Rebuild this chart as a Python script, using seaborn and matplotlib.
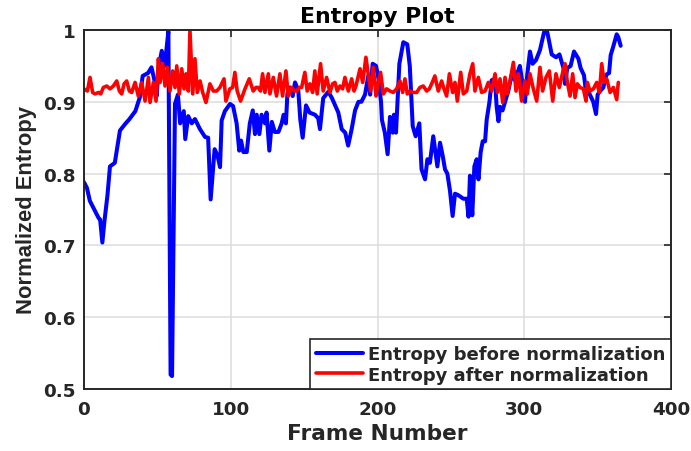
import matplotlib
matplotlib.use("Agg")
import matplotlib.pyplot as plt
import pandas as pd
import seaborn as sns

# ---- data -------------------------------------------------------------
blue_frames = [0, 2, 4, 7.5, 10, 11, 12.5, 14, 16, 17.7, 21, 24.5, 28, 31, 35, 38, 40,
               43.6, 46, 48, 49.5, 51, 53, 55, 57.5, 59, 60, 62, 64, 65.5, 68, 69, 71,
               73.4, 75.6, 79, 82.5, 84.6, 86.3, 89, 91, 92.7, 93.8, 96, 99.5, 101.6,
               104, 105.8, 107, 108.6, 110.9, 113, 115, 116.5, 117.7, 119.5, 121, 123.3,
               124.4, 126.3, 128, 130, 132.5, 134.7, 136, 137.6, 138.6, 140.4, 142.2,
               143.8, 146, 147.4, 149, 151.3, 153.7, 157.4, 159.6, 160.8, 163, 166.5,
               169, 173.3, 175.6, 178, 180, 182.4, 184.7, 187, 189, 191.5, 193.7, 195,
               196.7, 199, 200.6, 202.4, 203, 205, 206.9, 208.5, 210.4, 211.2, 212.6,
               214.9, 217.6, 220.3, 222, 224, 226, 228.5, 230, 232.4, 234, 235.7, 238,
               240.8, 242.6, 244.4, 246, 247.6, 249.4, 251.2, 252.8, 255, 258.5, 260.8,
               262, 263, 264.6, 266, 267.6, 268.8, 270.3, 271.7, 273.3, 274.4, 276.3,
               277.8, 280, 281.2, 282.4, 283.5, 285.2, 286.9, 289.1, 291.4, 293.7, 297,
               299.4, 300.5, 302, 303.9, 305.7, 308, 310.7, 313.5, 315.7, 318.7, 321.7,
               324, 326.7, 327.8, 329.3, 331.6, 333.9, 336.9, 338.4, 340.7, 342, 343.6,
               345.9, 347, 348.9, 350, 351.7, 353.9, 356, 357.8, 358.9, 360.8, 363,
               364.1, 365.7]
blue_values = [0.788, 0.780, 0.762, 0.748, 0.738, 0.736, 0.704, 0.735, 0.770, 0.810,
               0.815, 0.860, 0.869, 0.876, 0.887, 0.906, 0.936, 0.940, 0.948, 0.930,
               0.908, 0.950, 0.971, 0.950, 0.998, 0.520, 0.518, 0.897, 0.910, 0.870,
               0.887, 0.848, 0.880, 0.870, 0.876, 0.862, 0.851, 0.850, 0.764, 0.834,
               0.825, 0.809, 0.874, 0.887, 0.897, 0.894, 0.870, 0.832, 0.846, 0.830,
               0.830, 0.870, 0.888, 0.855, 0.882, 0.855, 0.882, 0.870, 0.885, 0.832,
               0.872, 0.858, 0.858, 0.870, 0.882, 0.870, 0.911, 0.920, 0.908, 0.927,
               0.916, 0.875, 0.850, 0.895, 0.885, 0.882, 0.877, 0.862, 0.905, 0.914,
               0.905, 0.885, 0.862, 0.857, 0.839, 0.862, 0.888, 0.900, 0.900, 0.910,
               0.936, 0.910, 0.953, 0.950, 0.933, 0.900, 0.875, 0.857, 0.827, 0.879,
               0.857, 0.882, 0.857, 0.953, 0.983, 0.980, 0.950, 0.866, 0.852, 0.870,
               0.806, 0.792, 0.820, 0.815, 0.852, 0.810, 0.843, 0.825, 0.806, 0.800,
               0.776, 0.741, 0.772, 0.770, 0.765, 0.765, 0.740, 0.797, 0.742, 0.810,
               0.820, 0.792, 0.830, 0.845, 0.845, 0.875, 0.900, 0.930, 0.932, 0.893,
               0.873, 0.893, 0.888, 0.900, 0.915, 0.937, 0.930, 0.950, 0.918, 0.900,
               0.937, 0.970, 0.953, 0.958, 0.972, 0.997, 0.997, 0.966, 0.962, 0.966,
               0.947, 0.925, 0.947, 0.950, 0.970, 0.960, 0.947, 0.937, 0.915, 0.915,
               0.905, 0.900, 0.883, 0.910, 0.915, 0.920, 0.938, 0.940, 0.965, 0.978,
               0.994, 0.990, 0.978]

red_frames = [0, 2.3, 4.1, 5.9, 7.5, 9.8, 11.4, 13.2, 15.5, 17.7, 20.0, 22.3, 24.1,
              25.7, 27.3, 29.1, 30.9, 32.5, 34.8, 37.0, 39.3, 41.6, 43.9, 45.0, 47.3,
              49.1, 50.7, 51.8, 53.6, 55.2, 56.8, 58.6, 60.4, 62.0, 63.2, 65.0, 66.6,
              68.2, 69.5, 71.1, 72.2, 74.1, 75.6, 77.2, 79.1, 80.9, 83.1, 85.8, 88.1,
              90.4, 92.6, 95.4, 96.7, 99.4, 101.3, 102.8, 104.4, 106.7, 109.7, 112.6,
              115.3, 117.2, 118.7, 120.3, 121.7, 123.3, 125.6, 126.7, 129.0, 131.2,
              133.5, 135.3, 137.6, 139.2, 141.5, 143.3, 144.9, 146.7, 148.3, 150.5,
              152.1, 153.9, 155.8, 157.3, 158.9, 161.2, 163.0, 165.3, 167.6, 169.4,
              171.0, 172.6, 174.4, 176.2, 177.8, 180.1, 182.4, 184.0, 185.3, 188.1,
              189.9, 192.1, 193.7, 195.3, 197.1, 199.0, 200.5, 202.1, 204.0, 206.2,
              208.5, 210.8, 213.0, 215.3, 217.1, 218.7, 220.3, 222.1, 224.4, 226.7,
              228.9, 231.2, 233.5, 235.3, 236.9, 239.1, 241.4, 243.7, 245.3, 247.1,
              249.0, 251.2, 252.8, 254.4, 256.7, 258.5, 260.8, 263.0, 264.9, 266.4,
              268.7, 271.0, 273.3, 275.5, 277.8, 280.1, 281.7, 283.5, 285.3, 286.9,
              288.5, 290.3, 292.6, 294.4, 296.0, 298.2, 300.5, 302.1, 303.9, 306.2,
              308.5, 310.7, 312.5, 314.8, 317.1, 319.4, 321.6, 323.9, 326.2, 327.8,
              329.4, 331.2, 333.0, 334.6, 336.2, 338.0, 340.3, 342.1, 343.0, 344.8,
              347.1, 349.4, 351.2, 352.8, 354.4, 356.2, 358.5, 360.7, 363.0, 364.1]
red_values = [0.918, 0.915, 0.934, 0.913, 0.911, 0.913, 0.911, 0.920, 0.922, 0.918,
              0.922, 0.929, 0.915, 0.911, 0.925, 0.929, 0.915, 0.913, 0.927, 0.908,
              0.927, 0.901, 0.934, 0.899, 0.927, 0.901, 0.960, 0.927, 0.953, 0.922,
              0.948, 0.915, 0.943, 0.920, 0.950, 0.911, 0.946, 0.918, 0.939, 0.915,
              0.999, 0.911, 0.960, 0.913, 0.929, 0.913, 0.899, 0.925, 0.915, 0.915,
              0.920, 0.932, 0.901, 0.918, 0.920, 0.941, 0.915, 0.901, 0.918, 0.932,
              0.915, 0.920, 0.920, 0.915, 0.939, 0.913, 0.939, 0.911, 0.934, 0.908,
              0.939, 0.908, 0.943, 0.908, 0.920, 0.915, 0.915, 0.920, 0.920, 0.941,
              0.915, 0.925, 0.913, 0.943, 0.911, 0.953, 0.915, 0.934, 0.913, 0.925,
              0.927, 0.915, 0.922, 0.918, 0.934, 0.915, 0.932, 0.915, 0.922, 0.946,
              0.927, 0.962, 0.939, 0.915, 0.948, 0.908, 0.927, 0.941, 0.911, 0.918,
              0.915, 0.913, 0.918, 0.929, 0.913, 0.932, 0.911, 0.915, 0.913, 0.913,
              0.920, 0.922, 0.915, 0.918, 0.925, 0.936, 0.915, 0.929, 0.918, 0.908,
              0.939, 0.913, 0.927, 0.901, 0.941, 0.911, 0.915, 0.939, 0.953, 0.915,
              0.934, 0.913, 0.915, 0.927, 0.915, 0.939, 0.913, 0.932, 0.899, 0.934,
              0.911, 0.929, 0.955, 0.915, 0.939, 0.901, 0.929, 0.911, 0.939, 0.918,
              0.901, 0.948, 0.915, 0.934, 0.943, 0.901, 0.939, 0.920, 0.941, 0.953,
              0.927, 0.908, 0.939, 0.906, 0.925, 0.920, 0.918, 0.901, 0.927, 0.915,
              0.918, 0.927, 0.913, 0.953, 0.927, 0.932, 0.913, 0.920, 0.903, 0.927]

x_ticks = [0, 100, 200, 300, 400]
y_ticks = [0.5, 0.6, 0.7, 0.8, 0.9, 1.0]
y_tick_labels = ["0.5", "0.6", "0.7", "0.8", "0.9", "1"]

label_before = "Entropy before normalization"
label_after = "Entropy after normalization"

# ---- figure -------------------------------------------------------------
sns.set_theme(style="white")
plt.rcParams["font.family"] = ["DejaVu Sans"]

ink = "#262626"
W, H = 691, 452
fig = plt.figure(figsize=(W / 100, H / 100), dpi=100)
ax = fig.add_axes([84 / W, 1 - 390 / H, (671 - 84) / W, (390 - 31) / H])

before = pd.DataFrame({"frame": blue_frames, "entropy": blue_values})
after = pd.DataFrame({"frame": red_frames, "entropy": red_values})

sns.lineplot(data=before, x="frame", y="entropy", color=(0, 0, 1), linewidth=2.9,
             estimator=None, sort=False, label=label_before, ax=ax)
sns.lineplot(data=after, x="frame", y="entropy", color=(1, 0, 0), linewidth=2.6,
             estimator=None, sort=False, label=label_after, ax=ax)

ax.set_xlim(0, 400)
ax.set_ylim(0.5, 1.0)
ax.set_xticks(x_ticks)
ax.set_xticklabels([str(t) for t in x_ticks], fontweight="bold", fontsize=13.2, color=ink)
ax.set_yticks(y_ticks)
ax.set_yticklabels(y_tick_labels, fontweight="bold", fontsize=13.2, color=ink)
ax.tick_params(axis="both", direction="in", length=5, width=1.2, color=ink,
               top=True, right=True)
ax.tick_params(axis="x", pad=8)
ax.tick_params(axis="y", pad=6)

ax.grid(True, color="#dcdcdc", linewidth=1.1)
ax.set_axisbelow(True)
for s in ax.spines.values():
    s.set_visible(True)
    s.set_color(ink)
    s.set_linewidth(1.4)

ax.set_title("Entropy Plot", fontsize=15.8, fontweight="bold", color="black", pad=6)
ax.set_xlabel("Frame Number", fontsize=15.6, fontweight="bold", color=ink)
ax.set_ylabel("Normalized Entropy", fontsize=15.8, fontweight="bold", color=ink,
              family=["Liberation Sans", "DejaVu Sans"])
ax.xaxis.set_label_coords(0.5, -0.095)
ax.yaxis.set_label_coords(-0.080, 0.5)

leg = ax.legend(loc="lower right", borderaxespad=0, frameon=True, fancybox=False,
                edgecolor=ink, framealpha=1, prop={"weight": "bold", "size": 13},
                handlelength=2.6, handletextpad=0.3, borderpad=0.3, labelspacing=0.15)
leg.get_frame().set_linewidth(1.2)

fig.savefig("out.png", dpi=100)
